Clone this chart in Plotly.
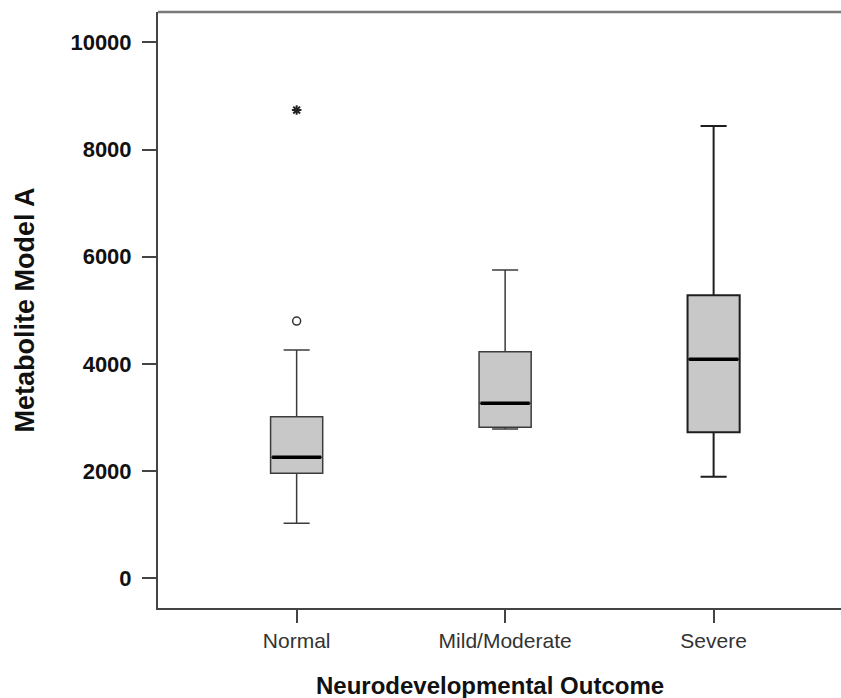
import plotly.graph_objects as go

categories = ["Normal", "Mild/Moderate", "Severe"]
lower_whisker = [1026, 2785, 1896]
q1_values = [1959, 2817, 2724]
median_values = [2257, 3265, 4086]
q3_values = [3015, 4228, 5280]
upper_whisker = [4260, 5752, 8438]

outlier_cat = ["Normal"]
outlier_vals = [4800]
extreme_cat = ["Normal"]
extreme_vals = [8737]

y_ticks = [0, 2000, 4000, 6000, 8000, 10000]
y_tick_text = ["<b>%d</b>" % v for v in y_ticks]

line_colors = ["#3c3c3c", "#3c3c3c", "#1e1e1e"]
line_widths = [1.5, 1.5, 2]

FONT = "Liberation Sans, Arial, sans-serif"

fig = go.Figure()
for i, c in enumerate(categories):
    fig.add_trace(go.Box(
        x=[c], q1=[q1_values[i]], median=[median_values[i]], q3=[q3_values[i]],
        lowerfence=[lower_whisker[i]], upperfence=[upper_whisker[i]],
        boxpoints=False, width=0.25, whiskerwidth=0.5,
        fillcolor="#c8c8c8", line=dict(color=line_colors[i], width=line_widths[i]),
        showlegend=False, hoverinfo="skip"))
    # thick median line
    fig.add_trace(go.Box(
        x=[c], q1=[median_values[i]], median=[median_values[i]], q3=[median_values[i]],
        lowerfence=[median_values[i]], upperfence=[median_values[i]],
        boxpoints=False, width=0.235, whiskerwidth=0,
        fillcolor="rgba(0,0,0,0)", line=dict(color="#000000", width=3.5),
        showlegend=False, hoverinfo="skip"))

fig.add_trace(go.Scatter(
    x=outlier_cat, y=outlier_vals, mode="markers",
    marker=dict(symbol="circle-open", size=8, color="#333333", line=dict(width=1.5)),
    showlegend=False, hoverinfo="skip"))
fig.add_trace(go.Scatter(
    x=extreme_cat, y=extreme_vals, mode="markers",
    marker=dict(symbol="asterisk-open", size=8, color="#222222", line=dict(width=2)),
    showlegend=False, hoverinfo="skip"))

fig.update_layout(
    width=841, height=698,
    margin=dict(l=158, r=0, t=12, b=90),
    paper_bgcolor="white", plot_bgcolor="white",
    boxmode="overlay",
    font=dict(family=FONT, color="#111111"),
    xaxis=dict(
        type="category", categoryorder="array", categoryarray=categories,
        range=[-0.665, 2.611], showgrid=False, zeroline=False,
        showline=True, linecolor="#444444", linewidth=2,
        ticks="outside", ticklen=13, tickwidth=2, tickcolor="#444444",
        tickfont=dict(size=21, color="#333333", family=FONT),
        ticklabelstandoff=0,
    ),
    yaxis=dict(
        range=[-554, 10566], tickvals=y_ticks, ticktext=y_tick_text,
        showgrid=False, zeroline=False,
        showline=True, linecolor="#444444", linewidth=2,
        ticks="outside", ticklen=14, tickwidth=2, tickcolor="#444444",
        tickfont=dict(size=22, color="#111111", family=FONT),
        ticklabelstandoff=6,
        title=dict(text="<b>Metabolite Model A</b>", font=dict(size=27, color="#111111", family=FONT), standoff=28),
    ),
    shapes=[dict(type="line", xref="paper", yref="paper", x0=0, x1=1, y0=1, y1=1,
                 line=dict(color="#7a7a7a", width=2.5))],
    annotations=[dict(text="<b>Neurodevelopmental Outcome</b>", xref="paper", yref="paper",
                      x=(490 - 158) / 683, y=-77 / 596, xanchor="center", yanchor="middle",
                      showarrow=False, font=dict(size=24, color="#111111", family=FONT))],
)

fig.write_html("out.html", config={"displayModeBar": False})

with open("out.html", "r", encoding="utf-8") as f:
    html = f.read()
html = html.replace("<head>", "<head><style>html,body{margin:0;padding:0;overflow:hidden;}</style>", 1)
with open("out.html", "w", encoding="utf-8") as f:
    f.write(html)
